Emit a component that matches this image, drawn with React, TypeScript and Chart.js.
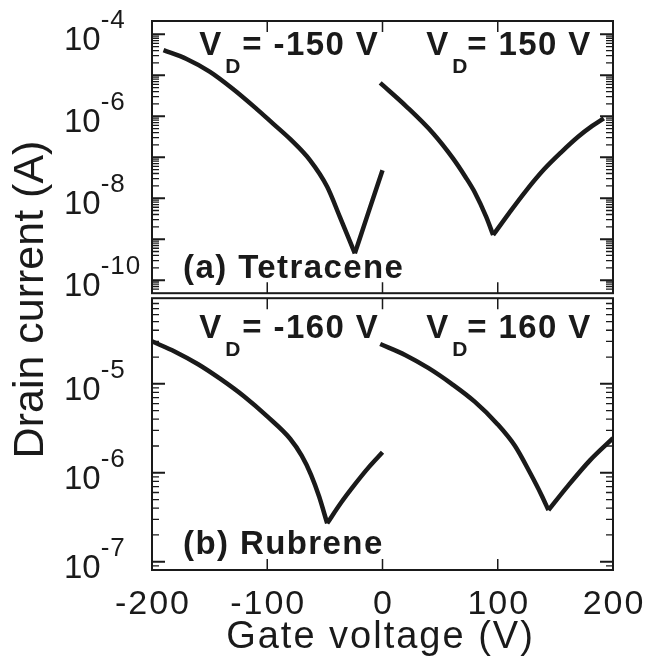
import React, { useEffect, useRef } from 'react';
import { Chart, registerables } from 'chart.js';

Chart.register(...registerables);

const FONT = '"Liberation Sans", Arial, Helvetica, sans-serif';
const INK = '#1a1a1a';

// (a) Tetracene, V_D = -150 V
const tetraNegGate = [-190, -170, -150, -130, -110, -95, -80, -63, -48, -37, -24, -12, 0];
const tetraNegCurrent = [4.1e-5, 2.5e-5, 1.23e-5, 4.7e-6, 1.58e-6, 6.6e-7, 2.75e-7, 8.5e-8, 1.9e-8, 3.5e-9, 4.5e-10, 4.7e-9, 4.8e-8];

// (a) Tetracene, V_D = 150 V
const tetraPosGate = [-2, 21, 44, 61, 72, 80, 90, 96, 110, 125, 140, 155, 170, 182, 192];
const tetraPosCurrent = [6.5e-6, 1.7e-6, 3.8e-7, 9.5e-8, 3.3e-8, 1.4e-8, 3.5e-9, 1.26e-9, 4.4e-9, 1.58e-8, 5.0e-8, 1.32e-7, 3.2e-7, 5.8e-7, 8.9e-7];

// (b) Rubrene, V_D = -160 V
const rubNegGate = [-200, -180, -160, -140, -120, -100, -80, -70, -62, -55, -48, -36, -24, -12, 0];
const rubNegCurrent = [3.0e-5, 2.3e-5, 1.66e-5, 1.12e-5, 7.2e-6, 4.3e-6, 2.4e-6, 1.55e-6, 9.5e-7, 5.4e-7, 2.7e-7, 4.6e-7, 7.4e-7, 1.15e-6, 1.7e-6];

// (b) Rubrene, V_D = 160 V
const rubPosGate = [-2, 20, 40, 60, 80, 100, 115, 128, 138, 144, 160, 180, 200];
const rubPosCurrent = [2.8e-5, 2.1e-5, 1.5e-5, 1.0e-5, 6.3e-6, 3.5e-6, 2.0e-6, 1.0e-6, 5.6e-7, 3.8e-7, 6.9e-7, 1.38e-6, 2.45e-6];

const xTickValues = [-200, -100, 0, 100, 200];
const xInnerTicks = [-100, 0, 100];
const topLabelExps = [-4, -6, -8, -10];
const bottomLabelExps = [-5, -6, -7];
const panelNames = ['(a) Tetracene', '(b) Rubrene'];
const drainNeg = ['-150', '-160'];
const drainPos = ['150', '160'];
const xTitle = 'Gate voltage (V)';
const yTitle = 'Drain current (A)';

function branches(gate: number[], cur: number[]) {
  const pts = gate.map((g, i) => ({ x: g, y: cur[i] }));
  let mi = 0;
  cur.forEach((c, i) => {
    if (c < cur[mi]) mi = i;
  });
  return [pts.slice(0, mi + 1), pts.slice(mi)];
}

function lineSets(gate: number[], cur: number[], axis: string) {
  return branches(gate, cur).map((d) => ({
    data: d,
    yAxisID: axis,
    borderColor: INK,
    borderWidth: 4.5,
    pointRadius: 0,
    fill: false,
    cubicInterpolationMode: 'monotone' as const,
    borderCapStyle: 'butt' as const,
    borderJoinStyle: 'round' as const,
  }));
}

function spaced(ctx: CanvasRenderingContext2D, sp: number) {
  (ctx as any).letterSpacing = sp + 'px';
}

const panelPlugin = {
  id: 'panelPlugin',
  afterDraw(chart: any) {
    const ctx: CanvasRenderingContext2D = chart.ctx;
    const xs = chart.scales.x;
    const yt = chart.scales.yTop;
    const yb = chart.scales.yBot;
    const L = xs.left;
    const R = xs.right;
    const panels = [
      { s: yt, top: yt.top, bottom: yt.bottom - 2.3, exps: topLabelExps, vOff: 34, nOff: -15 },
      { s: yb, top: yb.top + 2.7, bottom: yb.bottom, exps: bottomLabelExps, vOff: 40, nOff: -16 },
    ];
    ctx.save();
    ctx.strokeStyle = INK;
    ctx.fillStyle = INK;
    panels.forEach((p, idx) => {
      const s = p.s;
      ctx.lineWidth = 2;
      ctx.strokeRect(L, p.top, R - L, p.bottom - p.top);
      const lo = Math.floor(Math.log10(s.min));
      const hi = Math.ceil(Math.log10(s.max));
      for (let d = lo; d <= hi; d++) {
        for (let m = 1; m <= 9; m++) {
          const v = m * Math.pow(10, d);
          const py = s.getPixelForValue(v);
          if (py < p.top + 1 || py > p.bottom - 1) continue;
          const len = m === 1 ? 13 : 7;
          ctx.lineWidth = m === 1 ? 2 : 1.3;
          ctx.beginPath();
          ctx.moveTo(L, py);
          ctx.lineTo(L + len, py);
          ctx.moveTo(R, py);
          ctx.lineTo(R - len, py);
          ctx.stroke();
        }
      }
      ctx.lineWidth = 1.5;
      xInnerTicks.forEach((v) => {
        const px = xs.getPixelForValue(v);
        ctx.beginPath();
        ctx.moveTo(px, p.top);
        ctx.lineTo(px, p.top + 11);
        ctx.moveTo(px, p.bottom);
        ctx.lineTo(px, p.bottom - 11);
        ctx.stroke();
      });
      ctx.textAlign = 'left';
      ctx.textBaseline = 'alphabetic';
      p.exps.forEach((e) => {
        const py = s.getPixelForValue(Math.pow(10, e));
        spaced(ctx, 0);
        ctx.font = `33px ${FONT}`;
        const w = ctx.measureText('10').width;
        ctx.fillText('10', L - 88, py + 16);
        spaced(ctx, 1);
        ctx.font = `26px ${FONT}`;
        ctx.fillText(String(e), L - 88 + w, py - 6);
      });
      spaced(ctx, 1.4);
      const vBase = p.top + p.vOff;
      const drawVD = (x0: number, val: string, dOff: number, eqOff: number) => {
        ctx.font = `bold 33px ${FONT}`;
        ctx.fillText('V', x0, vBase);
        ctx.font = `bold 21px ${FONT}`;
        ctx.fillText('D', x0 + dOff, vBase + 18);
        ctx.font = `bold 33px ${FONT}`;
        ctx.fillText('= ' + val + ' V', x0 + eqOff, vBase);
      };
      drawVD(xs.getPixelForValue(-159), drainNeg[idx], 26, 43);
      drawVD(xs.getPixelForValue(38), drainPos[idx], 26, 41);
      ctx.font = `bold 33px ${FONT}`;
      ctx.fillText(panelNames[idx], xs.getPixelForValue(-173), p.bottom + p.nOff);
    });
    spaced(ctx, 2);
    ctx.font = `34px ${FONT}`;
    ctx.textAlign = 'center';
    const xb = chart.chartArea.bottom;
    xTickValues.forEach((v) => {
      ctx.fillText(String(v), xs.getPixelForValue(v) + 1, xb + 44);
    });
    ctx.font = `38px ${FONT}`;
    ctx.fillText(xTitle, (L + R) / 2 - 2, xb + 78);
    spaced(ctx, 0);
    ctx.font = `43px ${FONT}`;
    ctx.translate(L - 109, (chart.chartArea.top + chart.chartArea.bottom) / 2 + 4);
    ctx.rotate(-Math.PI / 2);
    ctx.textAlign = 'center';
    ctx.fillText(yTitle, 0, 0);
    ctx.restore();
  },
};

export default function App() {
  const ref = useRef<HTMLCanvasElement>(null);
  useEffect(() => {
    document.body.style.margin = '0';
    const chart = new Chart(ref.current!, {
      type: 'line',
      data: {
        datasets: [
          ...lineSets(tetraNegGate, tetraNegCurrent, 'yTop'),
          ...lineSets(tetraPosGate, tetraPosCurrent, 'yTop'),
          ...lineSets(rubNegGate, rubNegCurrent, 'yBot'),
          ...lineSets(rubPosGate, rubPosCurrent, 'yBot'),
        ] as any,
      },
      options: {
        responsive: false,
        animation: false,
        parsing: false as any,
        layout: { padding: { left: 152, top: 21, right: 33, bottom: 95 } },
        plugins: { legend: { display: false }, tooltip: { enabled: false } },
        scales: {
          x: { type: 'linear', min: -200, max: 200, display: false },
          yBot: {
            type: 'logarithmic',
            position: 'left',
            stack: 'panels',
            stackWeight: 1,
            min: Math.pow(10, -7.093),
            max: Math.pow(10, -4.007),
            display: false,
          },
          yTop: {
            type: 'logarithmic',
            position: 'left',
            stack: 'panels',
            stackWeight: 1,
            min: Math.pow(10, -10.375),
            max: Math.pow(10, -3.676),
            display: false,
          },
        } as any,
      },
      plugins: [panelPlugin],
    });
    return () => chart.destroy();
  }, []);
  return (
    <div style={{ width: 646, height: 665, overflow: 'hidden', background: '#fff' }}>
      <canvas ref={ref} width={646} height={665} style={{ display: 'block' }} />
    </div>
  );
}
